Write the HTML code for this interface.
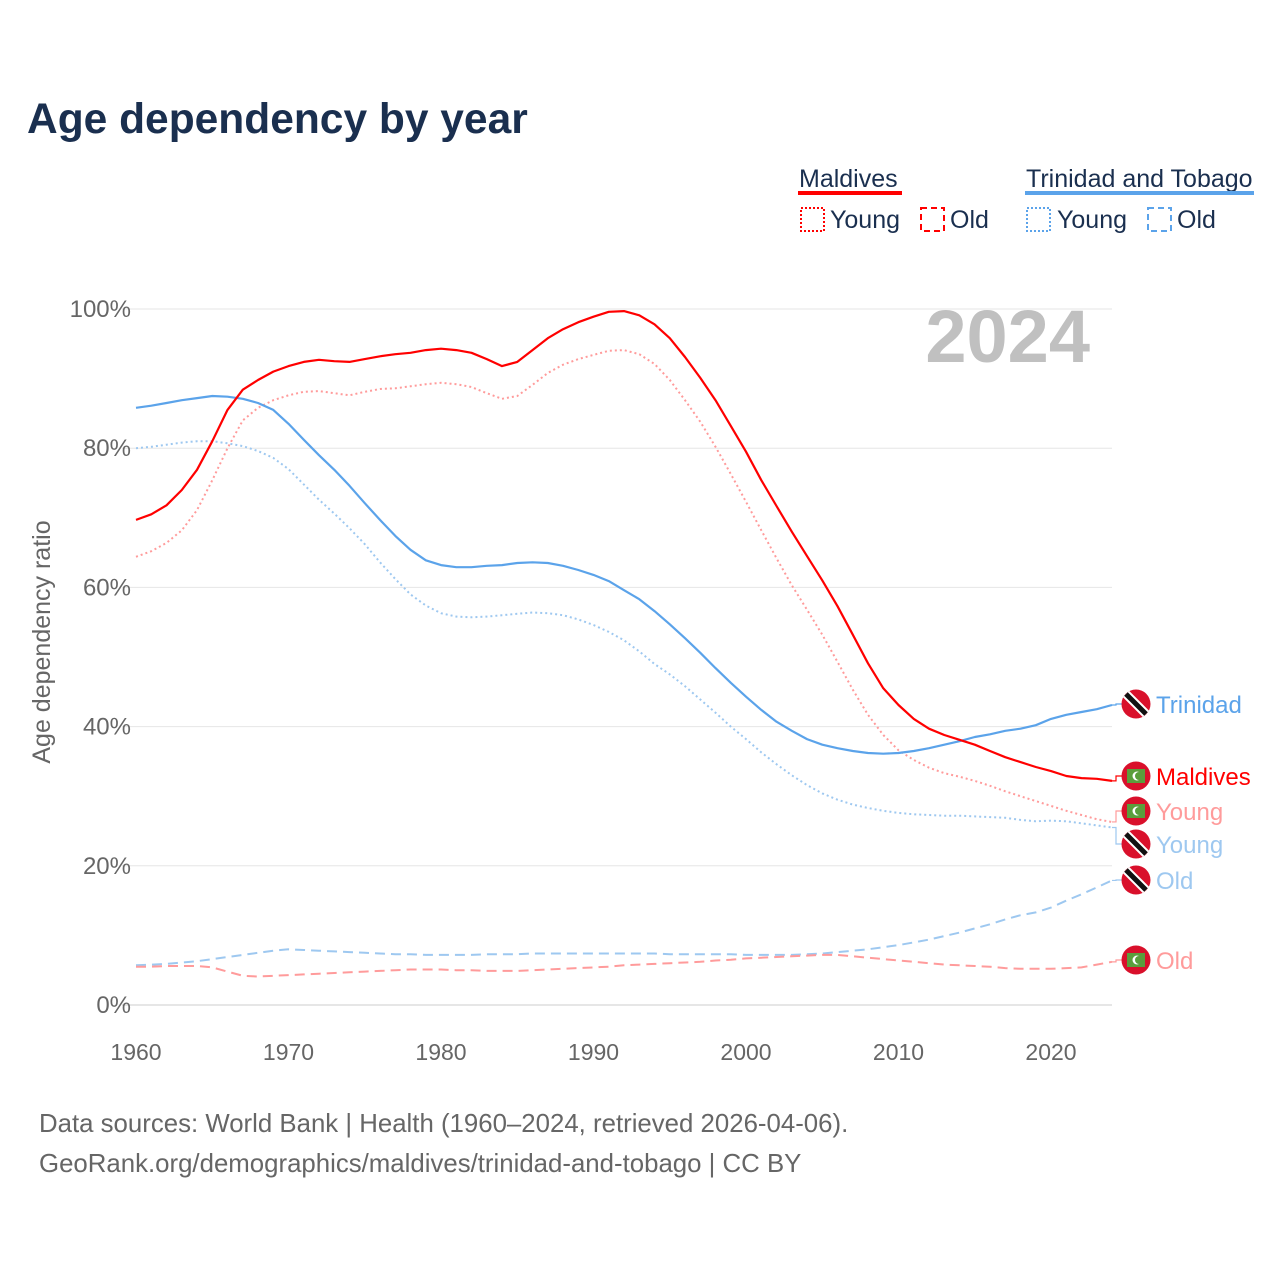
<!DOCTYPE html>
<html><head><meta charset="utf-8"><style>
body{margin:0;background:#fff;font-family:"Liberation Sans",sans-serif;}
svg text{font-family:"Liberation Sans",sans-serif;}
</style></head><body>
<svg id="chart" width="1280" height="1280" viewBox="0 0 1280 1280" xmlns="http://www.w3.org/2000/svg">
<rect width="1280" height="1280" fill="#fff"/>
<text x="27" y="133" font-size="42.5" font-weight="bold" fill="#1a2f4f">Age dependency by year</text>
<g font-size="25" fill="#1a2f4f">
<text x="799" y="187">Maldives</text>
<rect x="798" y="191" width="104" height="4" fill="#ff0000"/>
<rect x="801" y="208" width="23" height="23" fill="none" stroke="#ff0000" stroke-width="2" stroke-dasharray="2,2"/>
<text x="830" y="228">Young</text>
<rect x="921" y="208" width="23" height="23" fill="none" stroke="#ff0000" stroke-width="2" stroke-dasharray="6,4"/>
<text x="950" y="228">Old</text>
<text x="1026" y="187">Trinidad and Tobago</text>
<rect x="1025" y="191" width="229" height="4" fill="#5ba3ea"/>
<rect x="1027" y="208" width="23" height="23" fill="none" stroke="#5ba3ea" stroke-width="2" stroke-dasharray="2,2"/>
<text x="1057" y="228">Young</text>
<rect x="1148" y="208" width="23" height="23" fill="none" stroke="#5ba3ea" stroke-width="2" stroke-dasharray="6,4"/>
<text x="1177" y="228">Old</text>
</g>
<text x="1090" y="362" font-size="74" font-weight="bold" fill="#c0c0c0" text-anchor="end">2024</text>
<text transform="translate(50,642) rotate(-90)" font-size="25" fill="#666" text-anchor="middle">Age dependency ratio</text>
<g id="grid"></g><g id="lines"></g><g id="labels"></g>
<text x="39" y="1132" font-size="25.8" fill="#666">Data sources: World Bank | Health (1960–2024, retrieved 2026-04-06).</text>
<text x="39" y="1172" font-size="25.8" fill="#666">GeoRank.org/demographics/maldives/trinidad-and-tobago | CC BY</text>
</svg>
<script>
const years=[];for(let y=1960;y<=2024;y++)years.push(y);
const yTicks=[0,20,40,60,80,100];
const xTicks=[1960,1970,1980,1990,2000,2010,2020];
const mvTotal=[69.7,70.5,71.8,74,76.9,81,85.5,88.4,89.8,91,91.8,92.4,92.7,92.5,92.4,92.8,93.2,93.5,93.7,94.1,94.3,94.1,93.7,92.8,91.8,92.4,94.1,95.8,97.1,98.1,98.9,99.6,99.7,99.1,97.8,95.8,93.1,90.1,86.9,83.2,79.5,75.4,71.7,68,64.5,61,57.3,53.2,49.1,45.5,43.1,41.1,39.7,38.8,38.1,37.4,36.5,35.6,34.9,34.2,33.6,32.9,32.6,32.5,32.2];
const mvYoung=[64.4,65.2,66.4,68.2,71.1,75.4,80,84,85.8,86.9,87.6,88.1,88.2,87.9,87.6,88.1,88.5,88.6,88.9,89.2,89.4,89.2,88.8,87.9,87.1,87.5,89.1,90.8,92,92.8,93.4,94,94.1,93.5,92.1,89.8,86.9,83.8,80.2,76.3,72.3,68.2,64.2,60.3,56.8,53.2,49.3,45.3,41.7,38.8,36.6,35.2,34.1,33.3,32.8,32.2,31.5,30.7,30,29.3,28.6,27.9,27.3,26.7,26.3];
const mvOld=[5.5,5.5,5.6,5.6,5.6,5.4,4.8,4.2,4.1,4.2,4.3,4.4,4.5,4.6,4.7,4.8,4.9,5.0,5.1,5.1,5.1,5.0,5.0,4.9,4.9,4.9,5.0,5.1,5.2,5.3,5.4,5.5,5.7,5.8,5.9,6.0,6.1,6.2,6.4,6.5,6.7,6.8,6.9,7.0,7.1,7.2,7.2,7.0,6.8,6.6,6.4,6.2,6.0,5.8,5.7,5.6,5.5,5.3,5.2,5.2,5.2,5.3,5.4,5.8,6.2];
const ttTotal=[85.8,86.1,86.5,86.9,87.2,87.5,87.4,87.1,86.5,85.5,83.5,81.2,79,76.9,74.6,72.1,69.7,67.4,65.4,63.9,63.2,62.9,62.9,63.1,63.2,63.5,63.6,63.5,63.1,62.5,61.8,60.9,59.6,58.3,56.6,54.7,52.7,50.6,48.4,46.3,44.3,42.4,40.7,39.4,38.2,37.4,36.9,36.5,36.2,36.1,36.2,36.5,36.9,37.4,37.9,38.5,38.9,39.4,39.7,40.2,41.1,41.7,42.1,42.5,43.1];
const ttYoung=[80,80.2,80.5,80.8,81,81,80.7,80.3,79.6,78.6,77,74.8,72.6,70.6,68.5,66.2,63.6,61.2,59,57.4,56.3,55.8,55.7,55.8,56,56.2,56.4,56.3,56,55.4,54.6,53.6,52.4,50.8,49,47.5,45.8,43.9,42,40,38.2,36.3,34.6,33,31.6,30.4,29.5,28.8,28.3,27.9,27.6,27.4,27.3,27.2,27.2,27.1,27.0,26.9,26.6,26.4,26.5,26.4,26.1,25.8,25.5];
const ttOld=[5.7,5.8,5.9,6.1,6.3,6.6,6.9,7.2,7.5,7.8,8.0,7.9,7.8,7.7,7.6,7.5,7.4,7.3,7.3,7.2,7.2,7.2,7.2,7.3,7.3,7.3,7.4,7.4,7.4,7.4,7.4,7.4,7.4,7.4,7.4,7.3,7.3,7.3,7.3,7.3,7.2,7.2,7.2,7.2,7.3,7.4,7.6,7.8,8.0,8.3,8.6,9.0,9.4,9.9,10.4,11.0,11.6,12.3,12.9,13.3,14.0,15.0,15.9,16.9,17.9];
const NS='http://www.w3.org/2000/svg';
const X=y=>136+(y-1960)*(1051-136)/60;
const Y=v=>1005-v*6.96;
function mk(tag,attrs,parent){const e=document.createElementNS(NS,tag);for(const k in attrs)e.setAttribute(k,attrs[k]);parent.appendChild(e);return e;}
const grid=document.getElementById('grid');
yTicks.forEach(t=>{
 const l=mk('line',{x1:122,x2:1112,y1:Y(t),y2:Y(t),stroke:t===0?'#ccc':'#e6e6e6','stroke-width':1},grid);
 
 
 const tx=mk('text',{x:131,y:Y(t)+8,'font-size':24,fill:'#666','text-anchor':'end'},grid);
 tx.textContent=t+'%';
 
 
});
xTicks.forEach(t=>{
 const tx=mk('text',{x:X(t),y:1060,'font-size':23,fill:'#666','text-anchor':'middle'},grid);
 tx.textContent=t;
 
 
});
const lines=document.getElementById('lines');
function drawLine(vals,color,dash,name,w){
 const d=vals.map((v,i)=>(i?'L':'M')+X(years[i]).toFixed(1)+','+Y(v).toFixed(1)).join(' ');
 const p=mk('path',{d:d,fill:'none',stroke:color,'stroke-width':w,'stroke-dasharray':dash,'stroke-linejoin':'round'},lines);
 
 
}
drawLine(ttOld,'#9ec8f0','10,6','line-trinidad-old',2);
drawLine(mvOld,'#ff9b9b','10,6','line-maldives-old',2);
drawLine(ttYoung,'#9ec8f0','2,3','line-trinidad-young',2);
drawLine(mvYoung,'#ff9b9b','2,3','line-maldives-young',2);
drawLine(ttTotal,'#5ba3ea','','line-trinidad-total',2.2);
drawLine(mvTotal,'#ff0000','','line-maldives-total',2.2);
const labels=document.getElementById('labels');
const lab=[
 ['Trinidad',ttTotal,704,'#5ba3ea','tt'],
 ['Maldives',mvTotal,776,'#ff0000','mv'],
 ['Young',mvYoung,811,'#ff9b9b','mv'],
 ['Young',ttYoung,844,'#9ec8f0','tt'],
 ['Old',ttOld,880,'#9ec8f0','tt'],
 ['Old',mvOld,960,'#ff9b9b','mv']];
lab.forEach((L,i)=>{
 const g=mk('g',{},labels);
 
 
 const vy=Y(L[1][L[1].length-1]);
 mk('path',{d:`M1112,${vy} L1116,${vy} L1116,${L[2]} L1122,${L[2]}`,fill:'none',stroke:L[3],'stroke-width':1.2},g);
 mk('circle',{cx:1136,cy:L[2],r:14.5,fill:'#d9102b'},g);
 if(L[4]==='tt'){
  mk('line',{x1:1126,y1:L[2]-10,x2:1146,y2:L[2]+10,stroke:'#fff','stroke-width':9},g);
  mk('line',{x1:1126,y1:L[2]-10,x2:1146,y2:L[2]+10,stroke:'#111','stroke-width':5},g);
 } else {
  mk('rect',{x:1127,y:L[2]-7,width:18,height:14,fill:'#5a9e3c'},g);
  mk('circle',{cx:1137,cy:L[2],r:4.5,fill:'#fff'},g);
  mk('circle',{cx:1139,cy:L[2],r:4,fill:'#5a9e3c'},g);
 }
 const t=mk('text',{x:1156,y:L[2]+9,'font-size':24,fill:L[3]},g);
 t.textContent=L[0];
});
</script>
</body></html>
